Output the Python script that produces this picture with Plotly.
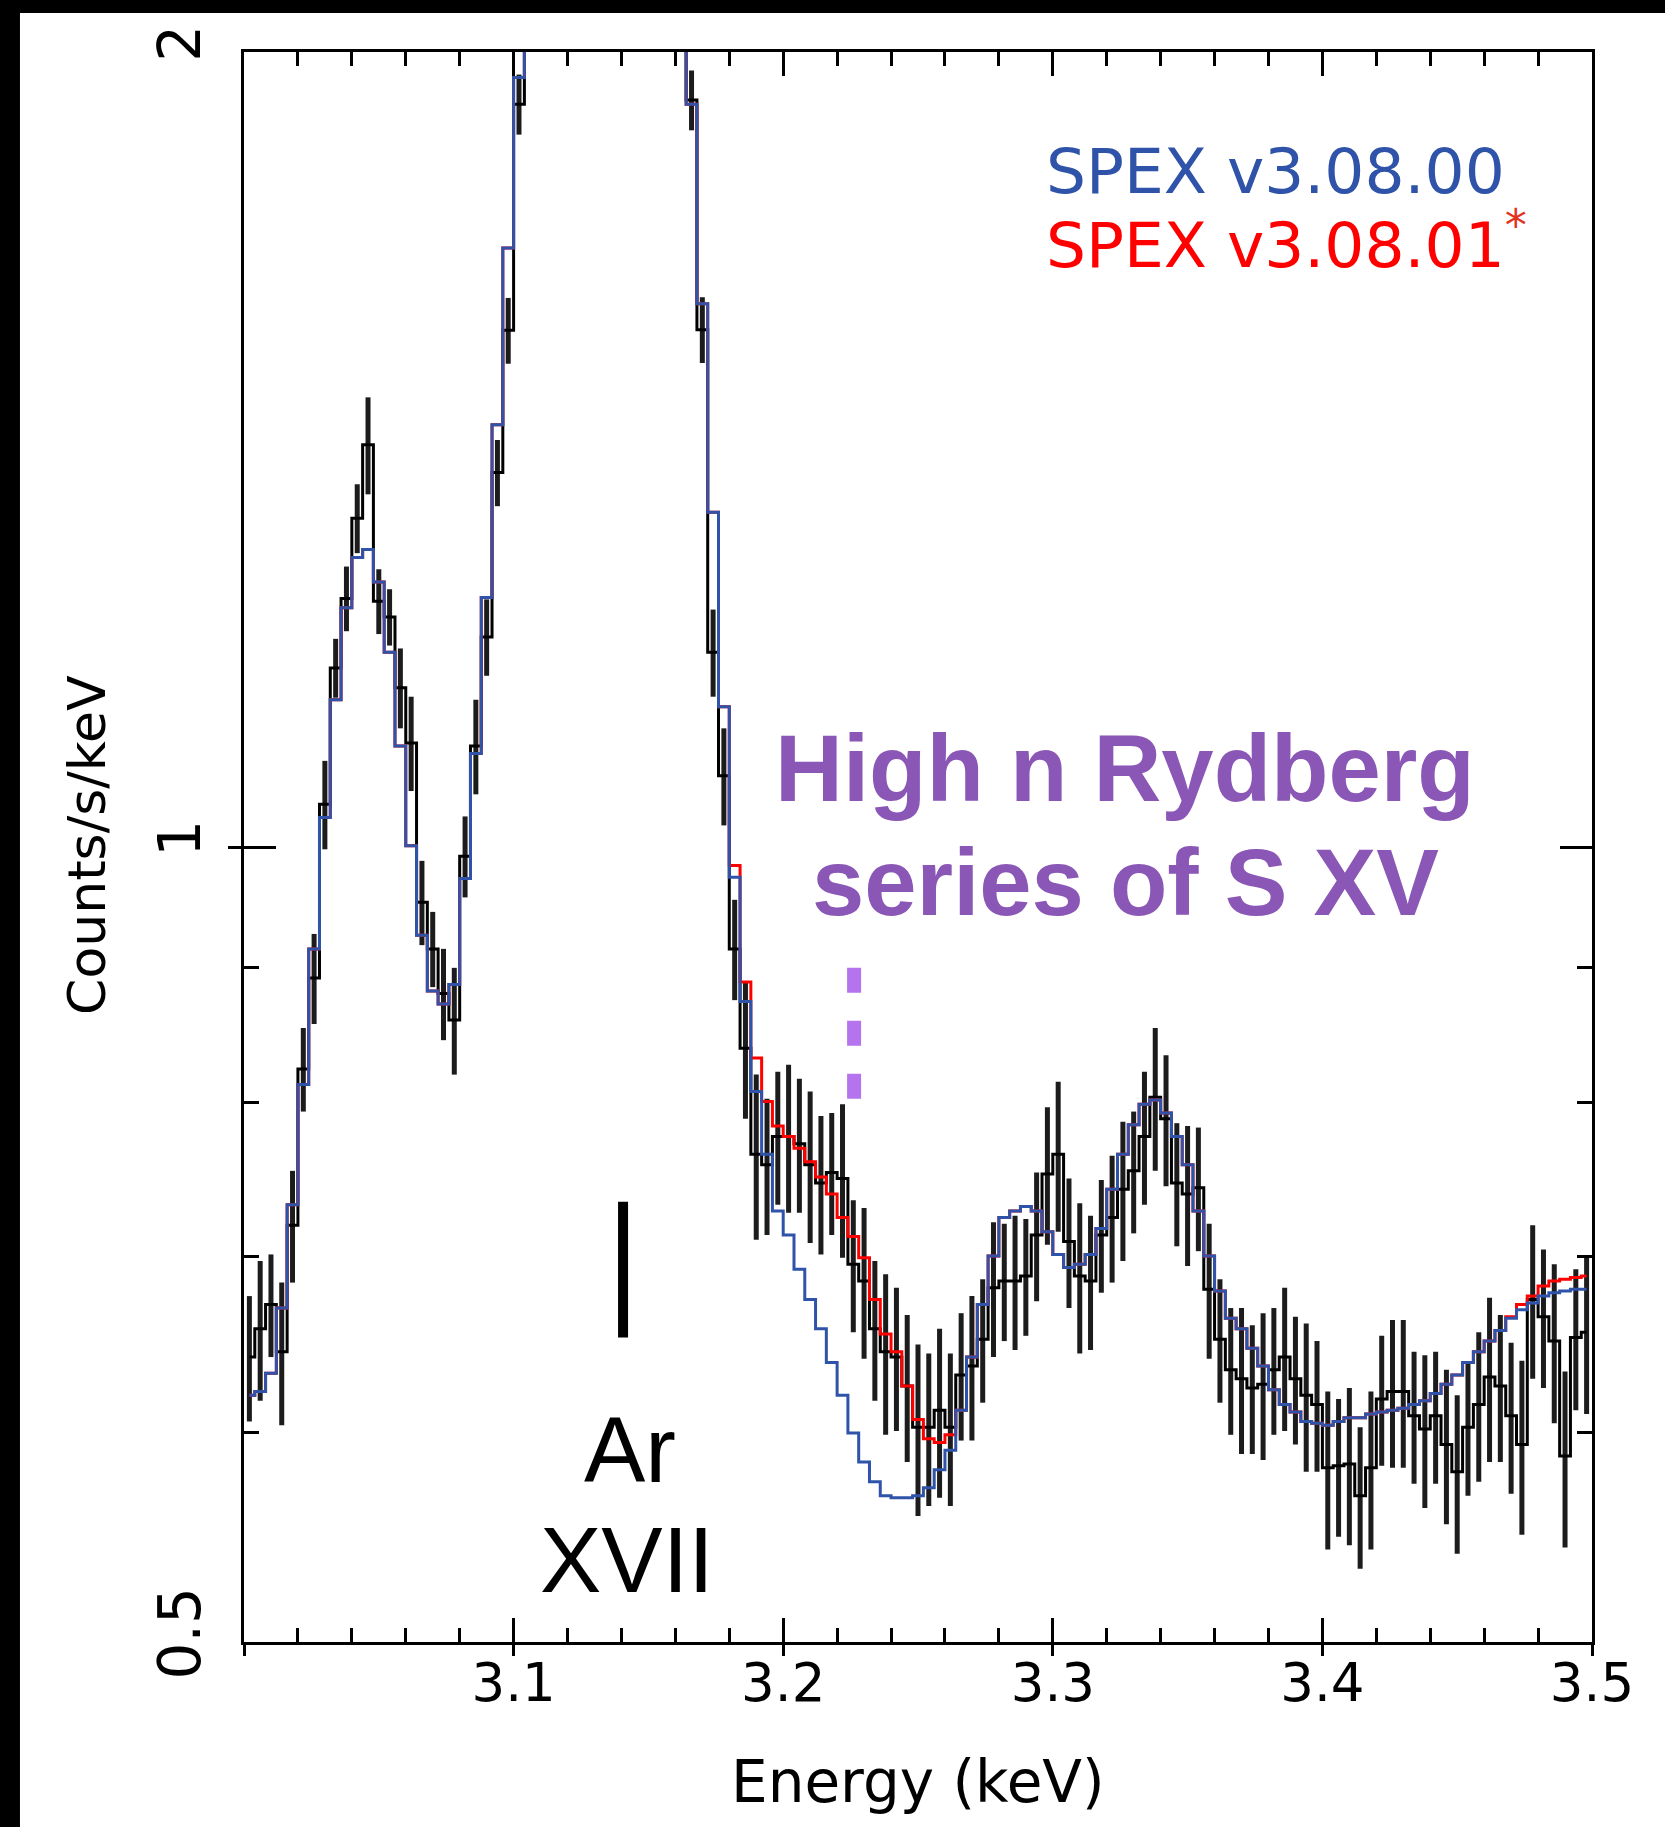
import plotly.graph_objects as go

# spectrum binning (keV)
bin_lo = 3.0
bin_width = 0.004
n_bins = 125
energy = [round(bin_lo + bin_width * (i + 0.5), 4) for i in range(n_bins)]

# observed spectrum, counts/s/keV (bins 26-40 lie above the plotted range)
data_counts = [
    0.641, 0.657, 0.671, 0.644, 0.719, 0.824, 0.892, 1.038, 1.169, 1.242,
    1.332, 1.420, 1.239, 1.222, 1.149, 1.095, 0.953, 0.915, 0.880, 0.860,
    0.992, 1.092, 1.201, 1.386, 1.569, 1.911, 2.40, 2.90, 3.50, 4.10,
    4.50, 4.70, 4.40, 3.90, 3.40, 3.20, 3.40, 3.70, 3.30, 2.70,
    2.25, 1.918, 1.570, 1.185, 1.064, 0.915, 0.839, 0.765, 0.758, 0.777,
    0.777, 0.772, 0.758, 0.746, 0.753, 0.749, 0.695, 0.685, 0.657, 0.644,
    0.641, 0.625, 0.603, 0.603, 0.612, 0.603, 0.631, 0.636, 0.651, 0.681,
    0.685, 0.685, 0.688, 0.713, 0.752, 0.765, 0.709, 0.688, 0.685, 0.713,
    0.724, 0.742, 0.754, 0.777, 0.804, 0.789, 0.746, 0.739, 0.743, 0.680,
    0.651, 0.634, 0.629, 0.624, 0.626, 0.634, 0.641, 0.629, 0.620, 0.615,
    0.582, 0.583, 0.584, 0.568, 0.582, 0.618, 0.622, 0.622, 0.609, 0.602,
    0.609, 0.594, 0.580, 0.603, 0.615, 0.630, 0.625, 0.609, 0.594, 0.674,
    0.664, 0.650, 0.588, 0.652, 0.655,
]
data_errors = [
    0.035, 0.040, 0.030, 0.040, 0.035, 0.030, 0.035, 0.040, 0.030, 0.035,
    0.040, 0.060, 0.035, 0.030, 0.040, 0.045, 0.035, 0.030, 0.035, 0.040,
    0.035, 0.045, 0.040, 0.040, 0.045, 0.050, 0.050, 0.050, 0.050, 0.050,
    0.050, 0.050, 0.050, 0.050, 0.050, 0.050, 0.050, 0.050, 0.050, 0.050,
    0.050, 0.050, 0.045, 0.045, 0.045, 0.040, 0.050, 0.055, 0.045, 0.045,
    0.050, 0.045, 0.050, 0.045, 0.040, 0.050, 0.040, 0.045, 0.040, 0.045,
    0.040, 0.040, 0.045, 0.040, 0.045, 0.040, 0.035, 0.040, 0.035, 0.040,
    0.035, 0.040, 0.035, 0.040, 0.045, 0.050, 0.040, 0.045, 0.040, 0.035,
    0.040, 0.045, 0.040, 0.045, 0.050, 0.045, 0.040, 0.045, 0.040, 0.040,
    0.035, 0.035, 0.040, 0.035, 0.040, 0.035, 0.040, 0.035, 0.040, 0.035,
    0.040, 0.035, 0.040, 0.035, 0.040, 0.035, 0.040, 0.040, 0.035, 0.040,
    0.035, 0.040, 0.040, 0.035, 0.040, 0.045, 0.040, 0.040, 0.045, 0.045,
    0.040, 0.045, 0.045, 0.040, 0.045,
]

# SPEX v3.08.00 model
model_v0800 = [
    0.620, 0.622, 0.632, 0.669, 0.732, 0.813, 0.915, 1.026, 1.137, 1.232,
    1.287, 1.296, 1.260, 1.185, 1.092, 1.001, 0.926, 0.882, 0.872, 0.887,
    0.973, 1.085, 1.243, 1.445, 1.686, 1.956, 2.30, 2.80, 3.40, 4.00,
    4.40, 4.60, 4.30, 3.80, 3.30, 3.10, 3.30, 3.60, 3.20, 2.60,
    2.20, 1.911, 1.606, 1.339, 1.130, 0.974, 0.874, 0.808, 0.765, 0.728,
    0.713, 0.692, 0.674, 0.657, 0.638, 0.620, 0.600, 0.585, 0.575, 0.568,
    0.567, 0.567, 0.568, 0.572, 0.581, 0.591, 0.612, 0.641, 0.671, 0.700,
    0.724, 0.728, 0.731, 0.728, 0.715, 0.701, 0.693, 0.695, 0.701, 0.717,
    0.742, 0.765, 0.785, 0.799, 0.802, 0.793, 0.777, 0.758, 0.728, 0.700,
    0.679, 0.663, 0.657, 0.646, 0.636, 0.623, 0.615, 0.611, 0.606, 0.605,
    0.604, 0.606, 0.608, 0.608, 0.610, 0.611, 0.612, 0.613, 0.615, 0.617,
    0.621, 0.626, 0.631, 0.638, 0.644, 0.650, 0.656, 0.663, 0.668, 0.672,
    0.676, 0.678, 0.679, 0.680, 0.680,
]

# SPEX v3.08.01 model
model_v0801 = [
    0.620, 0.622, 0.632, 0.669, 0.732, 0.813, 0.915, 1.026, 1.137, 1.232,
    1.287, 1.296, 1.260, 1.185, 1.092, 1.001, 0.926, 0.882, 0.872, 0.887,
    0.973, 1.085, 1.243, 1.445, 1.686, 1.956, 2.30, 2.80, 3.40, 4.00,
    4.40, 4.60, 4.30, 3.80, 3.30, 3.10, 3.30, 3.60, 3.20, 2.60,
    2.20, 1.911, 1.606, 1.339, 1.130, 0.984, 0.889, 0.832, 0.801, 0.784,
    0.777, 0.769, 0.760, 0.750, 0.739, 0.724, 0.712, 0.699, 0.674, 0.654,
    0.644, 0.625, 0.607, 0.597, 0.595, 0.599, 0.612, 0.641, 0.671, 0.700,
    0.724, 0.728, 0.731, 0.728, 0.715, 0.701, 0.693, 0.695, 0.701, 0.717,
    0.742, 0.765, 0.785, 0.799, 0.802, 0.793, 0.777, 0.758, 0.728, 0.700,
    0.679, 0.663, 0.657, 0.646, 0.636, 0.623, 0.615, 0.611, 0.606, 0.605,
    0.604, 0.606, 0.608, 0.608, 0.610, 0.611, 0.612, 0.613, 0.615, 0.617,
    0.621, 0.626, 0.631, 0.638, 0.644, 0.650, 0.656, 0.664, 0.671, 0.676,
    0.682, 0.685, 0.686, 0.687, 0.688,
]

# line markers
ar_xvii_energy = [3.1406, 3.1406]
ar_xvii_counts = [0.652, 0.734]
rydberg_energy = [3.2263, 3.2263]
rydberg_counts = [0.900, 0.801]

x_ticks = [3.1, 3.2, 3.3, 3.4, 3.5]
x_tick_text = ["3.1", "3.2", "3.3", "3.4", "3.5"]
y_ticks = [0.5, 1, 2]
y_tick_text = ["0.5", "1", "2"]
y_minor_ticks = [0.6, 0.7, 0.8, 0.9]

BLUE = "#2f53a8"
RED = "#ff0000"
PURPLE = "#8b57b6"
FONT = "DejaVu Sans"

fig = go.Figure()
fig.add_trace(
    go.Scatter(
        x=energy,
        y=data_counts,
        mode="lines",
        line=dict(color="black", width=3, shape="hvh"),
        error_y=dict(type="data", array=data_errors, color="#1c1c1c", thickness=5, width=0),
        name="data",
    )
)
fig.add_trace(
    go.Scatter(x=energy, y=model_v0801, mode="lines",
               line=dict(color=RED, width=3, shape="hvh"), name="SPEX v3.08.01")
)
fig.add_trace(
    go.Scatter(x=energy, y=model_v0800, mode="lines",
               line=dict(color=BLUE, width=3, shape="hvh"), name="SPEX v3.08.00")
)
fig.add_trace(
    go.Scatter(x=ar_xvii_energy, y=ar_xvii_counts, mode="lines",
               line=dict(color="black", width=10), name="Ar XVII")
)
fig.add_trace(
    go.Scatter(x=rydberg_energy, y=rydberg_counts, mode="lines",
               line=dict(color="#b574ee", width=14, dash="25px,28px"), name="S XV")
)
# carrier for the outward tick marks
fig.add_trace(go.Scatter(x=[], y=[], xaxis="x2", yaxis="y2", showlegend=False))

y_range = [-0.30103, 0.30103]
fig.update_layout(
    width=1665,
    height=1827,
    margin=dict(l=244, r=73, t=52, b=185),
    paper_bgcolor="white",
    plot_bgcolor="white",
    showlegend=False,
    font=dict(family=FONT, color="black"),
    xaxis=dict(
        range=[3.0, 3.5],
        tickvals=x_ticks,
        ticktext=x_tick_text,
        ticks="inside",
        ticklen=24,
        tickwidth=3,
        tickcolor="black",
        minor=dict(dtick=0.02, tick0=3.0, ticks="inside", ticklen=14, tickwidth=3, tickcolor="black"),
        showline=True,
        linewidth=3,
        linecolor="black",
        mirror="ticks",
        showgrid=False,
        zeroline=False,
        tickfont=dict(size=53, family=FONT),
        ticklabelstandoff=-8,
    ),
    yaxis=dict(
        type="log",
        range=y_range,
        tickvals=y_ticks,
        ticktext=y_tick_text,
        tickangle=-90,
        ticks="inside",
        ticklen=32,
        tickwidth=3,
        tickcolor="black",
        minor=dict(tickvals=y_minor_ticks, ticks="inside", ticklen=15, tickwidth=3, tickcolor="black"),
        showline=True,
        linewidth=3,
        linecolor="black",
        mirror="ticks",
        showgrid=False,
        zeroline=False,
        tickfont=dict(size=58, family=FONT),
        ticklabelstandoff=18,
    ),
    xaxis2=dict(
        overlaying="x", anchor="y2", side="bottom", range=[3.0, 3.5],
        tickvals=[3.0, 3.1, 3.2, 3.3, 3.4, 3.5], ticks="outside", ticklen=13,
        tickwidth=3, tickcolor="black", showticklabels=False,
        showline=False, showgrid=False, zeroline=False,
    ),
    yaxis2=dict(
        overlaying="y", anchor="x2", side="left", type="log", range=y_range,
        tickvals=[1], ticks="outside", ticklen=15, tickwidth=3, tickcolor="black",
        showticklabels=False, showline=False, showgrid=False, zeroline=False,
    ),
)

# black frame on the top and left edges of the picture
fig.add_shape(type="rect", xref="paper", yref="paper", x0=-0.25, x1=1.1, y0=1.0245, y1=1.1,
              fillcolor="black", line_width=0, layer="above")
fig.add_shape(type="rect", xref="paper", yref="paper", x0=-0.25, x1=-0.1662, y0=-0.2, y1=1.1,
              fillcolor="black", line_width=0, layer="above")

annotations = [
    dict(text="SPEX v3.08.00", x=0.5935, y=0.9246, xanchor="left",
         font=dict(size=63, color=BLUE, family=FONT)),
    dict(text="SPEX v3.08.01<sup><span style='color:#e2331f'>*</span></sup>", x=0.5935, y=0.8812,
         xanchor="left", font=dict(size=63, color=RED, family=FONT)),
    dict(text="<b>High n Rydberg</b>", x=0.6536, y=0.5495, xanchor="center",
         font=dict(size=94, color=PURPLE, family="Liberation Sans")),
    dict(text="<b>series of S XV</b>", x=0.6536, y=0.4777, xanchor="center",
         font=dict(size=94, color=PURPLE, family="Liberation Sans")),
    dict(text="Ar", x=0.2864, y=0.1206, xanchor="center",
         font=dict(size=92, color="black", family="Liberation Sans")),
    dict(text="XVII", x=0.2841, y=0.0513, xanchor="center",
         font=dict(size=92, color="black", family="Liberation Sans")),
    dict(text="Energy (keV)", x=0.5, y=-0.088, xanchor="center",
         font=dict(size=58, color="black", family=FONT)),
    dict(text="Counts/s/keV", x=-0.1165, y=0.5013, xanchor="center", textangle=-90,
         font=dict(size=52, color="black", family=FONT)),
]
for a in annotations:
    fig.add_annotation(xref="paper", yref="paper", showarrow=False, yanchor="middle", **a)

fig.write_html(
    "out.html",
    config={"displayModeBar": False},
    post_script="document.body.style.margin = '0'; document.body.style.overflow = 'hidden';",
)
